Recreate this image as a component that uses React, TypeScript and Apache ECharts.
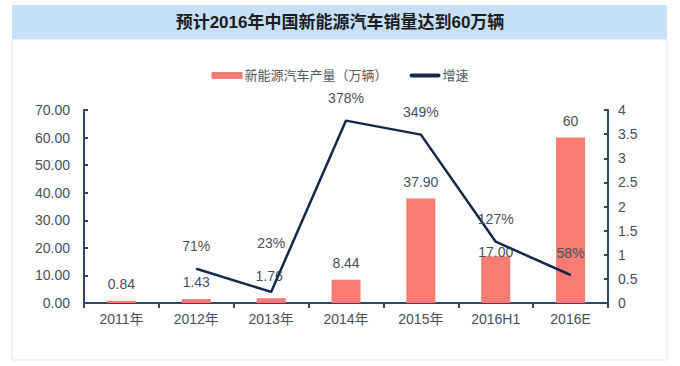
import React, { useEffect, useRef } from "react";
import * as echarts from "echarts";

const titleText = "预计2016年中国新能源汽车销量达到60万辆";
const categories = ["2011年", "2012年", "2013年", "2014年", "2015年", "2016H1", "2016E"];
const barName = "新能源汽车产量（万辆）";
const lineName = "增速";
const barValues = [0.84, 1.43, 1.76, 8.44, 37.9, 17.0, 60];
const barLabels = ["0.84", "1.43", "1.76", "8.44", "37.90", "17.00", "60"];
const growthValues: (number | null)[] = [null, 0.71, 0.23, 3.78, 3.49, 1.27, 0.58];
const growthLabels = ["", "71%", "23%", "378%", "349%", "127%", "58%"];
const leftTicks = { min: 0, max: 70, interval: 10 };
const rightTicks = { min: 0, max: 4, interval: 0.5 };

const FONT = "'Liberation Sans', 'Noto Sans CJK SC', sans-serif";
const FS = 14;
const TXT = "#46505e";
const AXIS = "#2d4766";
const LINE = "#14284a";

export default function App() {
  const ref = useRef<HTMLDivElement>(null);
  useEffect(() => {
    if (!ref.current) return;
    const chart = echarts.init(ref.current, undefined, { renderer: "svg" });
    const barOffsets: Record<number, number[]> = { 2: [-2, -5], 5: [0, 13] };
    const lineOffsets: Record<number, number[]> = { 2: [0, -26] };
    chart.setOption({
      animation: false,
      backgroundColor: "#ffffff",
      graphic: [
        {
          type: "rect",
          shape: { x: 12, y: 39, width: 655, height: 321 },
          style: { fill: "none", stroke: "#e4e4e4", lineWidth: 1 },
          silent: true,
        },
        {
          type: "rect",
          shape: { x: 12, y: 5, width: 655, height: 34 },
          style: { fill: "#c6e0fa" },
          silent: true,
        },
        {
          type: "text",
          x: 340,
          y: 22,
          style: {
            text: titleText,
            align: "center",
            verticalAlign: "middle",
            fill: "#1c1c1c",
            font: "bold 17px 'Liberation Sans', 'Noto Sans CJK SC', sans-serif",
          },
          z: 10,
        },
      ],
      legend: {
        left: "center",
        top: 64,
        itemWidth: 31,
        itemHeight: 7,
        itemGap: 22,
        textStyle: { fontFamily: FONT, fontSize: 13, color: "#505a68", padding: [0, 0, 0, -3] },
        data: [
          { name: barName, icon: "rect" },
          {
            name: lineName,
            icon: "path://M2,0 L29,0 A2,2 0 0 1 29,4 L2,4 A2,2 0 0 1 2,0 Z",
            itemStyle: { color: LINE },
          },
        ],
      },
      grid: { left: 84, right: 72, top: 110, bottom: 63 },
      xAxis: {
        type: "category",
        data: categories,
        axisLine: { lineStyle: { color: AXIS, width: 2 } },
        axisTick: { show: true, inside: false, length: 5, lineStyle: { color: AXIS, width: 2 } },
        axisLabel: { color: TXT, fontFamily: FONT, fontSize: FS, margin: 9 },
      },
      yAxis: [
        {
          type: "value",
          ...leftTicks,
          splitLine: { show: false },
          axisLine: { show: true, lineStyle: { color: AXIS, width: 2 } },
          axisTick: { show: true, inside: true, length: 4, lineStyle: { color: AXIS, width: 2 } },
          axisLabel: {
            color: TXT,
            fontFamily: FONT,
            fontSize: FS,
            margin: 14,
            formatter: (v: number) => v.toFixed(2),
          },
        },
        {
          type: "value",
          position: "right",
          ...rightTicks,
          splitLine: { show: false },
          axisLine: { show: true, lineStyle: { color: AXIS, width: 2 } },
          axisTick: { show: true, inside: true, length: 4, lineStyle: { color: AXIS, width: 2 } },
          axisLabel: { color: TXT, fontFamily: FONT, fontSize: FS, margin: 10 },
        },
      ],
      series: [
        {
          name: barName,
          type: "bar",
          yAxisIndex: 0,
          barWidth: 29,
          itemStyle: { color: "#f97b74" },
          data: barValues.map((v, i) => ({
            value: v,
            label: {
              show: true,
              position: "top",
              distance: 10,
              offset: barOffsets[i] || [0, 0],
              formatter: barLabels[i],
              color: TXT,
              fontFamily: FONT,
              fontSize: FS,
            },
          })),
        },
        {
          name: lineName,
          type: "line",
          yAxisIndex: 1,
          symbol: "circle",
          symbolSize: 1,
          showSymbol: true,
          lineStyle: { color: LINE, width: 2.5 },
          itemStyle: { color: LINE },
          z: 5,
          data: growthValues.map((v, i) => ({
            value: v,
            label: {
              show: v !== null,
              position: "top",
              distance: 15,
              offset: lineOffsets[i] || [0, 0],
              formatter: growthLabels[i],
              color: TXT,
              fontFamily: FONT,
              fontSize: FS,
            },
          })),
        },
      ],
    });
    return () => chart.dispose();
  }, []);
  return (
    <div
      ref={ref}
      style={{ position: "fixed", left: 0, top: 0, width: 680, height: 366, background: "#fff" }}
    />
  );
}
